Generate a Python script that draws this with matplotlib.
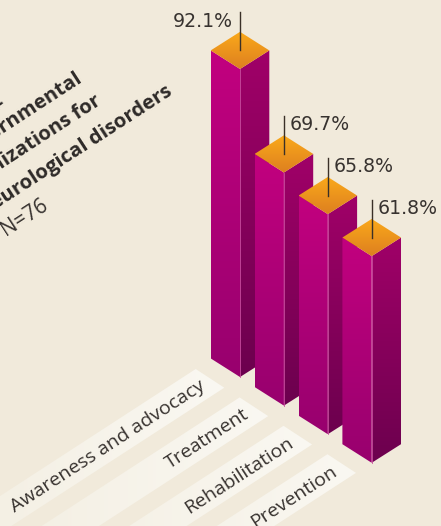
import numpy as np
import matplotlib
matplotlib.use("Agg")
import matplotlib.pyplot as plt
from matplotlib.colors import LinearSegmentedColormap
from matplotlib.patches import Polygon

categories = ["Awareness and advocacy", "Treatment", "Rehabilitation", "Prevention"]
values = [92.1, 69.7, 65.8, 61.8]
value_labels = ["92.1%", "69.7%", "65.8%", "61.8%"]
title_lines = ["Non-", "governmental", "organizations for", "neurological disorders"]
title_ends = [(3, 101), (81, 77), (99, 100), (171, 90)]
note = "N=76"

BG = "#f1eadb"
INK = "#2e2a28"
SCALE = 3.344       # pixels per percentage point
HALF_W = 29.3
HALF_D = 18.6
STEP_X = 43.9
STEP_Y = 28.6
ANGLE = 33

plt.rcParams["font.family"] = ["Open Sans", "Noto Sans", "DejaVu Sans"]

fig = plt.figure(figsize=(4.41, 5.26), dpi=100, facecolor=BG)
ax = fig.add_axes([0, 0, 1, 1])
ax.set_xlim(0, 441)
ax.set_ylim(526, 0)
ax.axis("off")


def shade(points, colors, horizontal=False, zorder=2):
    # fill a polygon with a linear gradient
    pts = np.array(points)
    x0, x1 = pts[:, 0].min(), pts[:, 0].max()
    y0, y1 = pts[:, 1].min(), pts[:, 1].max()
    cmap = LinearSegmentedColormap.from_list("face", colors)
    grad = np.linspace(0, 1, 256).reshape(-1, 1)
    if horizontal:
        grad = grad.T
    im = ax.imshow(grad, extent=[x0, x1, y1, y0], cmap=cmap, aspect="auto",
                   zorder=zorder, interpolation="bilinear", vmin=0, vmax=1)
    im.set_clip_path(Polygon(pts, closed=True, transform=ax.transData))


# pale strips carrying the category names
strip_len = 300
along = np.array([-np.cos(np.radians(ANGLE)), np.sin(np.radians(ANGLE))])
for i, name in enumerate(categories):
    right = np.array([224.3 + i * STEP_X, 387.7 + i * 28.4])
    top = np.array([195.7 + i * STEP_X, 369.0 + i * 28.4])
    shade([top, right, right + strip_len * along, top + strip_len * along],
          ["#f3eee1", "#faf8f2"], horizontal=True, zorder=1)
    ax.text(right[0] - 20.5, right[1] - 3.5, name, rotation=ANGLE, rotation_mode="anchor",
            ha="right", va="center", fontsize=14, color="#37322f", zorder=3)

# isometric bars, back to front
for i, (val, lab) in enumerate(zip(values, value_labels)):
    bx = 240 + i * STEP_X
    by = 377 + i * STEP_Y
    ty = by - val * SCALE
    front = [(bx - HALF_W, ty - HALF_D), (bx, ty), (bx, by), (bx - HALF_W, by - HALF_D)]
    side = [(bx, ty), (bx + HALF_W, ty - HALF_D), (bx + HALF_W, by - HALF_D), (bx, by)]
    lid = [(bx - HALF_W, ty - HALF_D), (bx, ty - 2 * HALF_D), (bx + HALF_W, ty - HALF_D), (bx, ty)]
    z = 4 + i
    shade(front, ["#c2007f", "#98006e"], zorder=z)
    shade(side, ["#a00068", "#6c004e"], zorder=z)
    shade(lid, ["#fbaa1a", "#dd7f20"], zorder=z + 0.1)
    ax.plot([bx, bx], [ty, by], color="#c94d9f", lw=0.6, zorder=z + 0.2)

    # leader line and value
    cy = ty - HALF_D
    ax.plot([bx, bx], [cy, cy - 38], color="#3a3028", lw=1.0, zorder=z + 0.3)
    if i == 0:
        ax.text(bx - 7, cy - 29, lab, ha="right", va="center", fontsize=13.6,
                family="DejaVu Sans", color="#37322f", zorder=20)
    else:
        ax.text(bx + 6, cy - 29, lab, ha="left", va="center", fontsize=13.6,
                family="DejaVu Sans", color="#37322f", zorder=20)

# rotated heading, running off the left edge
for (ex, ey), line in zip(title_ends, title_lines):
    ax.text(ex, ey, line, rotation=ANGLE, rotation_mode="anchor", ha="right", va="center",
            fontsize=14.6, fontweight="bold", color=INK)
ax.text(3, 231, note, rotation=ANGLE, rotation_mode="anchor", ha="left", va="center",
        fontsize=15, color="#37322f")

fig.savefig("out.png", dpi=100, facecolor=BG)
